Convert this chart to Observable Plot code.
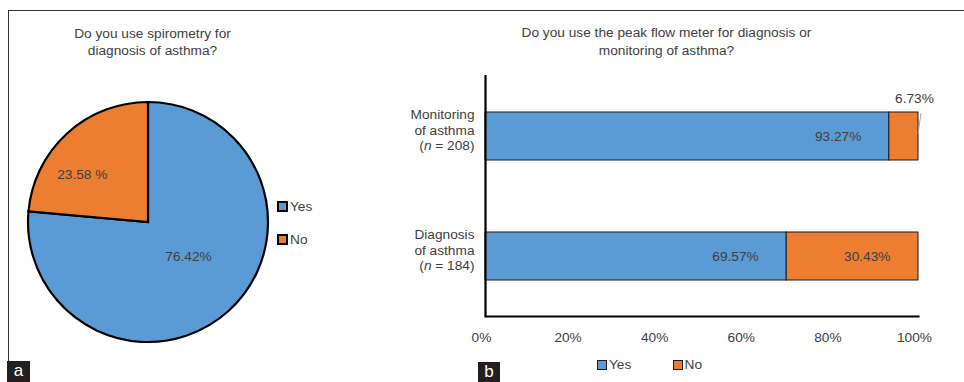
<!DOCTYPE html>
<html>
<head>
<meta charset="utf-8">
<script src="https://cdn.jsdelivr.net/npm/d3@7"></script>
<script src="https://cdn.jsdelivr.net/npm/@observablehq/plot@0.6"></script>
<style>
  body { margin: 0; background: #fff; font-family: Arial, "Liberation Sans", sans-serif; }
  #wrap { position: relative; width: 964px; height: 382px; overflow: hidden; background: #fff; }
  .abs { position: absolute; }
  .title { position: absolute; text-align: center; font-size: 13.7px; line-height: 17.4px; color: #404040; }
  .leg { position: absolute; font-size: 13.7px; color: #404040; line-height: 14px; white-space: nowrap; }
  .sw { display: inline-block; box-sizing: border-box; vertical-align: -1px; margin-right: 2px; }
  .panel { position: absolute; background: #231f20; color: #fff; font-size: 17px; line-height: 20px; text-align: center; }
</style>
</head>
<body>
<div id="wrap"></div>
<script>
// ---------- data ----------
const pieTitle = ["Do you use spirometry for", "diagnosis of asthma?"];
const pieCategories = ["Yes", "No"];
const pieValues = [76.42, 23.58];
const pieLabels = ["76.42%", "23.58 %"];

const barTitle = ["Do you use the peak flow meter for diagnosis or", "monitoring of asthma?"];
const barCategories = ["Monitoring of asthma", "Diagnosis of asthma"];
const barN = [208, 184];
const barResponses = ["Yes", "No"];
const barYes = [93.27, 69.57];
const barNo = [6.73, 30.43];
const xTicks = [0, 20, 40, 60, 80, 100];

const colors = ["#5B9BD5", "#ED7D31"];
const textColor = "#404040";
const font = "Arial, 'Liberation Sans', sans-serif";

const wrap = document.getElementById("wrap");
function add(html) { wrap.insertAdjacentHTML("beforeend", html); }

// ---------- frame lines ----------
add(`<div class="abs" style="left:8px;top:10px;width:956px;height:1px;background:#333"></div>`);
add(`<div class="abs" style="left:8px;top:10px;width:1px;height:352px;background:#333"></div>`);

// ---------- pie chart ----------
const pieData = pieCategories.map((c, i) => ({cat: c, value: pieValues[i], label: pieLabels[i]}));
const pieW = 470, pieH = 382;
const piePlot = Plot.plot({
  width: pieW, height: pieH,
  marginLeft: 28, marginRight: 202, marginTop: 102, marginBottom: 40,
  style: {fontFamily: font, fontSize: "13.7px", color: textColor, background: "transparent", overflow: "visible"},
  marks: [
    (index, scales, values, dims) => {
      const iw = dims.width - dims.marginLeft - dims.marginRight;
      const ih = dims.height - dims.marginTop - dims.marginBottom;
      const cx = dims.marginLeft + iw / 2, cy = dims.marginTop + ih / 2;
      const r = Math.min(iw, ih) / 2;
      const arcs = d3.pie().sort(null).value(d => d.value)(pieData);
      const arc = d3.arc().innerRadius(0).outerRadius(r);
      const g = d3.create("svg:g").attr("transform", `translate(${cx},${cy})`);
      g.selectAll("path").data(arcs).join("path")
        .attr("d", arc)
        .attr("fill", (d, i) => colors[i])
        .attr("stroke", "#000")
        .attr("stroke-width", 2.2)
        .attr("stroke-linejoin", "miter");
      const nudges = [[0.5, 0, -9.6], [0.75, -5, 18.5]];
      g.selectAll("text").data(arcs).join("text")
        .attr("transform", (d, i) => {
          const [k, dx, dy] = nudges[i];
          const c = d3.arc().innerRadius(r * k).outerRadius(r * k).centroid(d);
          return `translate(${c[0] + dx},${c[1] + dy})`;
        })
        .attr("text-anchor", "middle")
        .attr("dy", "0.35em")
        .attr("fill", textColor)
        .attr("font-size", "13.7px")
        .text(d => d.data.label);
      return g.node();
    }
  ]
});
piePlot.style.position = "absolute";
piePlot.style.left = "0px";
piePlot.style.top = "0px";
wrap.appendChild(piePlot);

add(`<div class="title" style="left:0px;top:24.6px;width:305px">${pieTitle.join("<br>")}</div>`);
pieCategories.forEach((c, i) => {
  add(`<div class="leg" style="left:277px;top:${200 + i * 32.5}px"><span class="sw" style="width:11px;height:11px;background:${colors[i]};border:2px solid #000"></span>${c}</div>`);
});

// ---------- stacked bar chart ----------
const barData = [];
barCategories.forEach((c, i) => {
  barData.push({cat: c, resp: "Yes", value: barYes[i] / 100});
  barData.push({cat: c, resp: "No", value: barNo[i] / 100});
});
const catLabel = new Map(barCategories.map((c, i) => {
  const words = c.split(" ");
  return [c, `${words[0]}\n${words.slice(1).join(" ")}\n(n = ${barN[i]})`];
}));
const fmtPct = d => d3.format(".2f")(d * 100) + "%";
const isSmall = d => d.value < 0.1;

const barPlot = Plot.plot({
  width: 584, height: 382,
  marginLeft: 105, marginRight: 46, marginTop: 75, marginBottom: 66,
  style: {fontFamily: font, fontSize: "13.7px", color: textColor, background: "transparent", overflow: "visible"},
  x: {domain: [0, 1]},
  y: {domain: barCategories, paddingInner: 0.6, paddingOuter: 0.3},
  color: {domain: barResponses, range: colors},
  marks: [
    Plot.barX(barData, {x: "value", y: "cat", fill: "resp", z: "resp", stroke: "#1a1a1a", strokeWidth: 1, order: barResponses}),
    Plot.text(barData, Plot.stackX2({
      x: "value", y: "cat", z: "resp", order: barResponses,
      text: d => isSmall(d) ? "" : fmtPct(d.value), textAnchor: "end", dx: -28, fill: textColor, fontSize: 13.7
    })),
    Plot.text(barData, Plot.stackX2({
      x: "value", y: "cat", z: "resp", order: barResponses,
      text: d => isSmall(d) ? fmtPct(d.value) : "", textAnchor: "middle", dx: -4, dy: -37.5, fill: textColor, fontSize: 13.7
    })),
    (index, scales, values, dims) => {
      // leader line for the small outside label
      const i = barData.findIndex(isSmall);
      const top = scales.y(barData[i].cat);
      const x0 = scales.x(1);
      return d3.create("svg:line")
        .attr("x1", x0).attr("y1", top + 22)
        .attr("x2", x0 + 3).attr("y2", top + 1)
        .attr("stroke", "#a6a6a6").attr("stroke-width", 1).node();
    },
    Plot.ruleX([0], {stroke: "#000", strokeWidth: 2.2}),
    Plot.frame({anchor: "bottom", stroke: "#000", strokeWidth: 2.2}),
    Plot.axisX({
      ticks: xTicks.map(t => t / 100), tickFormat: d3.format(".0%"),
      tickSize: 0, tickPadding: 16, dx: -4, fontSize: 13.7, fill: textColor, label: null
    }),
    Plot.axisY({
      tickFormat: d => catLabel.get(d), tickSize: 0, tickPadding: 11,
      textAnchor: "end", dy: -7, lineHeight: 1.15, fontSize: 13.7, fill: textColor, label: null
    })
  ]
});
barPlot.style.position = "absolute";
barPlot.style.left = "380px";
barPlot.style.top = "0px";
wrap.appendChild(barPlot);

// italic "n" in category labels
barPlot.querySelectorAll("tspan, text").forEach(el => {
  if (el.children.length === 0 && /^\(n = \d+\)$/.test(el.textContent)) {
    const num = el.textContent.match(/\d+/)[0];
    el.textContent = "(";
    const it = document.createElementNS("http://www.w3.org/2000/svg", "tspan");
    it.setAttribute("font-style", "italic");
    it.textContent = "n";
    el.appendChild(it);
    el.appendChild(document.createTextNode(` = ${num})`));
  }
});

add(`<div class="title" style="left:416.5px;top:24.3px;width:500px">${barTitle.join("<br>")}</div>`);
const barLegX = [597, 672.5];
barResponses.forEach((c, i) => {
  add(`<div class="leg" style="left:${barLegX[i]}px;top:358px"><span class="sw" style="width:10px;height:10px;background:${colors[i]};border:1.3px solid #1a1a1a"></span>${c}</div>`);
});

// ---------- panel letters ----------
add(`<div class="panel" style="left:7px;top:361px;width:23px;height:21px">a</div>`);
add(`<div class="panel" style="left:478px;top:362px;width:22px;height:20px">b</div>`);
</script>
</body>
</html>
